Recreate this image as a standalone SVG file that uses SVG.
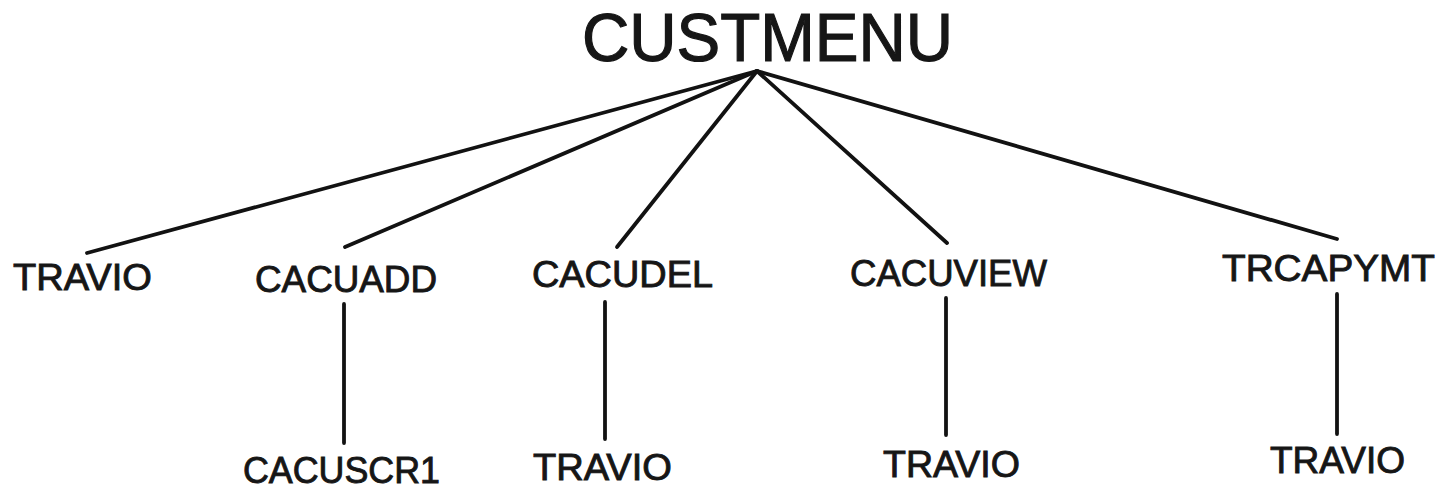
<svg xmlns="http://www.w3.org/2000/svg" width="1446" height="491" viewBox="0 0 1446 491">
  <style>
    .lbl { font-family: "Liberation Sans", Arial, Helvetica, sans-serif; font-size: 37px; fill: #161616; stroke: #161616; stroke-width: 0.9; }
    .root { font-family: "Liberation Sans", Arial, Helvetica, sans-serif; font-size: 68px; fill: #161616; stroke: #161616; stroke-width: 1.2; }
    .edge { stroke: #121212; stroke-width: 3.8; stroke-linecap: round; fill: none; }
  </style>
  <rect width="1446" height="491" fill="#ffffff"/>

  <!-- connectors -->
  <g id="connectors">
    <line class="edge" x1="757" y1="71" x2="87" y2="253"/>
    <line class="edge" x1="757" y1="71" x2="345" y2="247"/>
    <line class="edge" x1="757" y1="71" x2="617" y2="247"/>
    <line class="edge" x1="757" y1="71" x2="947" y2="243"/>
    <line class="edge" x1="757" y1="71" x2="1337" y2="239"/>
    <line class="edge" x1="344" y1="304" x2="344" y2="443"/>
    <line class="edge" x1="605" y1="302" x2="605" y2="439"/>
    <line class="edge" x1="946" y1="298" x2="946" y2="435"/>
    <line class="edge" x1="1337" y1="294" x2="1337" y2="434"/>
  </g>

  <!-- root -->
  <g id="custmenu">
    <text class="root" x="582" y="61" textLength="371" lengthAdjust="spacingAndGlyphs">CUSTMENU</text>
  </g>

  <!-- first level -->
  <g id="travio-1">
    <text class="lbl" x="13" y="290" textLength="139" lengthAdjust="spacingAndGlyphs">TRAVIO</text>
  </g>
  <g id="cacuadd">
    <text class="lbl" x="255" y="292" textLength="182" lengthAdjust="spacingAndGlyphs">CACUADD</text>
  </g>
  <g id="cacudel">
    <text class="lbl" x="532" y="287" textLength="181" lengthAdjust="spacingAndGlyphs">CACUDEL</text>
  </g>
  <g id="cacuview">
    <text class="lbl" x="850" y="286" textLength="197" lengthAdjust="spacingAndGlyphs">CACUVIEW</text>
  </g>
  <g id="trcapymt">
    <text class="lbl" x="1222" y="281" textLength="213" lengthAdjust="spacingAndGlyphs">TRCAPYMT</text>
  </g>

  <!-- second level -->
  <g id="cacuscr1">
    <text class="lbl" x="243" y="483" textLength="197" lengthAdjust="spacingAndGlyphs">CACUSCR1</text>
  </g>
  <g id="travio-2">
    <text class="lbl" x="533" y="480" textLength="139" lengthAdjust="spacingAndGlyphs">TRAVIO</text>
  </g>
  <g id="travio-3">
    <text class="lbl" x="883" y="477" textLength="137" lengthAdjust="spacingAndGlyphs">TRAVIO</text>
  </g>
  <g id="travio-4">
    <text class="lbl" x="1270" y="473" textLength="135" lengthAdjust="spacingAndGlyphs">TRAVIO</text>
  </g>
</svg>
